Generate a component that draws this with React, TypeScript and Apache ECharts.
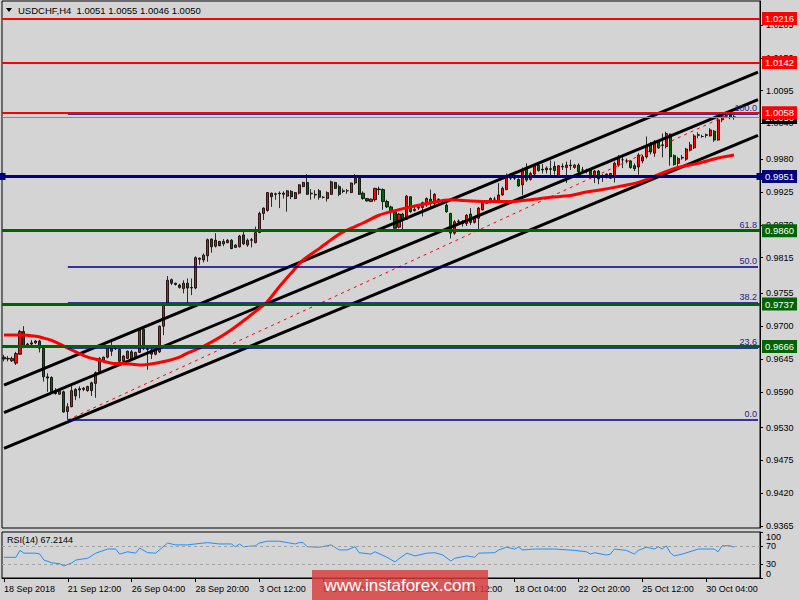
import React, { useEffect, useRef } from "react";
import * as echarts from "echarts";

// [open, high, low, close] per H4 bar, 18 Sep 2018 20:00 .. 31 Oct 2018 08:00
const CANDLES: number[][] = [
  [0.9648, 0.9652, 0.9641, 0.9645], [0.9645, 0.965, 0.9641, 0.9646], [0.9642, 0.9649, 0.964, 0.9646], [0.9638, 0.9657, 0.9635, 0.9654],
  [0.9653, 0.9694, 0.9652, 0.9691], [0.9691, 0.97, 0.9663, 0.9666], [0.9667, 0.9672, 0.9665, 0.967], [0.967, 0.9677, 0.9667, 0.9672],
  [0.9672, 0.9677, 0.967, 0.9675], [0.9675, 0.9677, 0.9656, 0.9663], [0.9663, 0.9665, 0.9607, 0.9615], [0.9615, 0.9621, 0.959, 0.9613],
  [0.9614, 0.9616, 0.9589, 0.959], [0.959, 0.9596, 0.9585, 0.9587], [0.9586, 0.9594, 0.9585, 0.9592], [0.959, 0.9592, 0.9555, 0.9556],
  [0.9557, 0.9571, 0.9543, 0.9565], [0.9565, 0.9601, 0.9564, 0.9592], [0.9594, 0.9596, 0.9576, 0.9583], [0.9593, 0.9599, 0.9579, 0.9595],
  [0.9594, 0.9598, 0.9591, 0.9596], [0.9592, 0.96, 0.959, 0.9599], [0.9605, 0.9607, 0.9583, 0.9592], [0.9604, 0.9624, 0.958, 0.9622],
  [0.9624, 0.9648, 0.9623, 0.9646], [0.9641, 0.9649, 0.964, 0.9648], [0.9648, 0.9667, 0.9646, 0.9665], [0.9665, 0.9674, 0.965, 0.9658],
  [0.9662, 0.9668, 0.966, 0.9664], [0.9661, 0.9663, 0.9638, 0.9641], [0.9641, 0.9651, 0.964, 0.965], [0.9646, 0.9659, 0.9645, 0.9658],
  [0.9657, 0.966, 0.9643, 0.9644], [0.9648, 0.9657, 0.9646, 0.9656], [0.9656, 0.9697, 0.9655, 0.9695], [0.9695, 0.9696, 0.966, 0.9663],
  [0.9662, 0.9665, 0.9627, 0.9661], [0.9653, 0.9663, 0.9645, 0.966], [0.9653, 0.9663, 0.9651, 0.9661], [0.9657, 0.9701, 0.9655, 0.97],
  [0.97, 0.9738, 0.9685, 0.9736], [0.9737, 0.9784, 0.9735, 0.9777], [0.9778, 0.978, 0.9769, 0.9772], [0.9772, 0.9773, 0.9768, 0.977],
  [0.9769, 0.9771, 0.9763, 0.9765], [0.9763, 0.9777, 0.9755, 0.9772], [0.9772, 0.978, 0.9738, 0.9764], [0.9764, 0.978, 0.9752, 0.9765],
  [0.9764, 0.9817, 0.9762, 0.9815], [0.9814, 0.9815, 0.9803, 0.9812], [0.9811, 0.9822, 0.9807, 0.9819], [0.9818, 0.9847, 0.9808, 0.9845],
  [0.9846, 0.9847, 0.9823, 0.9833], [0.9834, 0.9856, 0.9832, 0.9844], [0.9842, 0.9843, 0.9834, 0.9835], [0.9838, 0.9846, 0.9834, 0.9842],
  [0.984, 0.9846, 0.9839, 0.9844], [0.9844, 0.9846, 0.9829, 0.983], [0.9832, 0.9837, 0.9831, 0.9836], [0.9833, 0.9853, 0.9832, 0.9851],
  [0.9853, 0.9862, 0.9836, 0.9838], [0.9836, 0.9847, 0.9833, 0.9844], [0.9845, 0.9848, 0.9832, 0.9844], [0.984, 0.9867, 0.9839, 0.9857],
  [0.9857, 0.9892, 0.9856, 0.9889], [0.9889, 0.9899, 0.9878, 0.9898], [0.9894, 0.9925, 0.9892, 0.9924], [0.9923, 0.9924, 0.99, 0.9917],
  [0.9921, 0.9924, 0.9912, 0.9922], [0.9922, 0.9926, 0.9898, 0.9923], [0.9923, 0.9926, 0.9914, 0.9921], [0.9918, 0.9928, 0.9892, 0.9927],
  [0.9926, 0.9928, 0.9913, 0.9917], [0.9914, 0.9925, 0.9913, 0.9924], [0.9923, 0.9938, 0.9921, 0.9937], [0.9934, 0.9942, 0.9933, 0.9941],
  [0.9941, 0.9955, 0.992, 0.9921], [0.9922, 0.993, 0.9912, 0.9923], [0.9921, 0.9928, 0.9914, 0.992], [0.9927, 0.993, 0.9912, 0.9916],
  [0.9916, 0.9918, 0.9914, 0.9916], [0.9914, 0.9926, 0.9909, 0.9924], [0.9921, 0.9944, 0.992, 0.9942], [0.9941, 0.9942, 0.993, 0.9931],
  [0.9934, 0.9937, 0.9918, 0.9921], [0.9926, 0.9931, 0.9923, 0.9927], [0.9927, 0.993, 0.9922, 0.9927], [0.9924, 0.9941, 0.9923, 0.994],
  [0.994, 0.9955, 0.9937, 0.9948], [0.9948, 0.9951, 0.992, 0.9921], [0.9923, 0.9926, 0.9912, 0.9914], [0.9914, 0.9915, 0.9909, 0.991],
  [0.9909, 0.9914, 0.9908, 0.9913], [0.9912, 0.9932, 0.9909, 0.9931], [0.993, 0.9934, 0.992, 0.9929], [0.9929, 0.9931, 0.9895, 0.9909],
  [0.9909, 0.9912, 0.9898, 0.99], [0.99, 0.9902, 0.9878, 0.9892], [0.9893, 0.9895, 0.9859, 0.9864], [0.9866, 0.989, 0.9864, 0.9888],
  [0.9888, 0.989, 0.9859, 0.9878], [0.9879, 0.992, 0.9878, 0.9918], [0.9917, 0.9918, 0.989, 0.9892], [0.9894, 0.99, 0.9892, 0.9896],
  [0.9898, 0.9903, 0.9895, 0.99], [0.9899, 0.9909, 0.9884, 0.9907], [0.9903, 0.9916, 0.99, 0.9914], [0.9913, 0.9929, 0.9898, 0.9907],
  [0.9906, 0.9923, 0.9903, 0.9921], [0.9913, 0.9914, 0.9906, 0.9912], [0.991, 0.9912, 0.9907, 0.9909], [0.9903, 0.9906, 0.989, 0.9892],
  [0.9889, 0.989, 0.9847, 0.9856], [0.9856, 0.9878, 0.9853, 0.9875], [0.9875, 0.9879, 0.987, 0.9876], [0.9873, 0.9878, 0.9867, 0.9872],
  [0.9872, 0.9888, 0.9868, 0.9886], [0.9888, 0.9898, 0.987, 0.9874], [0.9874, 0.9884, 0.9872, 0.9882], [0.9881, 0.99, 0.9859, 0.9898],
  [0.9895, 0.9909, 0.9894, 0.9907], [0.9906, 0.991, 0.9905, 0.9909], [0.9907, 0.9916, 0.9906, 0.9914], [0.9913, 0.9917, 0.9909, 0.9913],
  [0.9909, 0.994, 0.9906, 0.992], [0.992, 0.9934, 0.9919, 0.9931], [0.9929, 0.9956, 0.9928, 0.9952], [0.9952, 0.9956, 0.9945, 0.9948],
  [0.9948, 0.9951, 0.9945, 0.9948], [0.9946, 0.9948, 0.9934, 0.9935], [0.9937, 0.9966, 0.992, 0.9963], [0.9963, 0.9973, 0.9942, 0.9945],
  [0.9946, 0.9959, 0.9944, 0.9956], [0.9955, 0.9972, 0.9952, 0.9969], [0.997, 0.9972, 0.9959, 0.9961], [0.9962, 0.9972, 0.9956, 0.9963],
  [0.9962, 0.9968, 0.9956, 0.9965], [0.9964, 0.9978, 0.9952, 0.9963], [0.9968, 0.9976, 0.9954, 0.9961], [0.9952, 0.997, 0.9951, 0.9969],
  [0.9967, 0.9973, 0.9962, 0.9968], [0.9966, 0.9976, 0.994, 0.997], [0.997, 0.9979, 0.9962, 0.9969], [0.9966, 0.9972, 0.9964, 0.997],
  [0.997, 0.9973, 0.9956, 0.9959], [0.9962, 0.9967, 0.9956, 0.9962], [0.996, 0.9964, 0.9956, 0.996], [0.9962, 0.9965, 0.9948, 0.9951],
  [0.9951, 0.9962, 0.994, 0.996], [0.996, 0.9962, 0.9938, 0.9947], [0.9951, 0.9955, 0.9942, 0.9951], [0.9949, 0.9956, 0.9948, 0.9955],
  [0.9956, 0.9957, 0.9947, 0.9948], [0.9949, 0.9976, 0.9941, 0.9973], [0.997, 0.9987, 0.9967, 0.9981], [0.9979, 0.9987, 0.9965, 0.9979],
  [0.9977, 0.9981, 0.9973, 0.9977], [0.9977, 0.9978, 0.9964, 0.9966], [0.9969, 0.9973, 0.996, 0.9964], [0.9967, 0.999, 0.9954, 0.9987],
  [0.9977, 0.9987, 0.9973, 0.9984], [0.9984, 1.0018, 0.9981, 1.0001], [1.0004, 1.0009, 0.9988, 0.9992], [0.999, 1.0012, 0.9984, 1.0007],
  [1.0009, 1.0012, 0.9997, 0.9999], [1.0003, 1.0023, 0.9983, 1.0004], [1.0001, 1.0026, 0.9998, 1.0023], [1.0022, 1.0023, 0.9969, 0.9984],
  [0.9986, 0.9988, 0.9969, 0.9971], [0.9973, 0.9984, 0.9967, 0.9981], [0.9982, 0.9987, 0.9979, 0.9983], [0.998, 0.9999, 0.9977, 0.9997],
  [0.9995, 1.0009, 0.9993, 1.0004], [0.9999, 1.0022, 0.9997, 1.0019], [1.002, 1.0025, 1.0015, 1.0021], [1.0018, 1.0021, 1.0016, 1.0018],
  [1.002, 1.0023, 1.0016, 1.0021], [1.0019, 1.0032, 1.0018, 1.0029], [1.0027, 1.0029, 1.0009, 1.0012], [1.0012, 1.0049, 1.0011, 1.0046],
  [1.0046, 1.0054, 1.0042, 1.0051], [1.0052, 1.0055, 1.005, 1.0053], [1.0055, 1.0057, 1.0047, 1.005], [1.0051, 1.0055, 1.0046, 1.005],
];

const SLOT_COUNT = 190; // bar slots on the time axis (incl. empty right margin)
const CATEGORIES = Array.from({ length: SLOT_COUNT }, (_, i) => String(i));
const X_TICK_STEP = 16;
const X_TICK_LABELS = [
  "18 Sep 2018", "21 Sep 12:00", "26 Sep 04:00", "28 Sep 20:00", "3 Oct 12:00", "8 Oct 04:00",
  "10 Oct 20:00", "15 Oct 12:00", "18 Oct 04:00", "22 Oct 20:00", "25 Oct 12:00", "30 Oct 04:00",
];

const PRICE_MIN = 0.93616;
const PRICE_MAX = 1.02452;
const PRICE_TICKS = [
  1.0205, 1.015, 1.0095, 1.004, 0.998, 0.9925, 0.987, 0.9815, 0.9755, 0.97, 0.9645, 0.959, 0.953, 0.9475, 0.942, 0.9365,
];

// moving average [bar, price]
const MA_POINTS: number[][] = [
  [0, 0.9685], [4, 0.9685], [8, 0.9683], [10, 0.968], [12, 0.9676], [14, 0.967], [16, 0.9663], [18, 0.9657],
  [21, 0.9648], [24, 0.9643], [27, 0.9638], [31, 0.9637], [34, 0.9635], [38, 0.9638], [41, 0.9642], [44, 0.9648],
  [46, 0.9655], [49, 0.9663], [53, 0.9677], [57, 0.9694], [61, 0.9714], [64, 0.973], [66, 0.9741], [69, 0.9766],
  [72, 0.9789], [75, 0.9811], [79, 0.983], [82, 0.9845], [85, 0.9858], [88, 0.9867], [90, 0.9873], [94, 0.9886],
  [97, 0.9892], [102, 0.99], [107, 0.9907], [112, 0.9912], [117, 0.991], [122, 0.9909], [127, 0.9909], [132, 0.9912],
  [137, 0.9916], [142, 0.9919], [146, 0.9925], [149, 0.9928], [154, 0.9934], [159, 0.9941], [164, 0.9954],
  [169, 0.9966], [174, 0.9973], [179, 0.9982], [183, 0.9987],
];

// RSI(14) [bar, value]
const RSI_POINTS: number[][] = [
  [0, 45], [3, 45], [4, 60], [5, 54], [8, 54], [9, 52], [10, 39], [12, 33], [14, 31], [15, 26], [17, 33], [18, 39],
  [21, 43], [23, 54], [26, 63], [28, 63], [29, 52], [31, 57], [33, 54], [34, 65], [36, 55], [38, 54], [41, 76],
  [43, 72], [46, 72], [48, 74], [51, 77], [54, 74], [57, 74], [58, 68], [59, 74], [60, 68], [63, 70], [64, 76],
  [66, 80], [69, 80], [73, 74], [74, 77], [75, 77], [76, 68], [79, 67], [81, 70], [82, 72], [84, 61], [86, 61],
  [88, 68], [89, 55], [92, 52], [93, 57], [96, 45], [98, 35], [99, 42], [101, 54], [103, 48], [106, 54], [108, 55],
  [110, 50], [112, 37], [113, 43], [116, 48], [118, 45], [119, 54], [123, 55], [124, 61], [126, 67], [128, 63],
  [129, 67], [130, 61], [133, 63], [138, 63], [143, 60], [146, 57], [147, 52], [148, 55], [151, 50], [152, 52],
  [153, 63], [156, 60], [158, 52], [159, 60], [161, 67], [163, 63], [164, 68], [165, 63], [166, 70], [167, 55],
  [168, 48], [170, 52], [173, 60], [174, 63], [178, 63], [179, 57], [180, 70], [182, 70], [183, 67.2144],
];
const RSI_MID_TICKS = [30, 70];
const RSI_TOP_TICK = [100];
const RSI_BOTTOM_TICK = [0];
const RSI_LEVELS = [70, 30];

// regression channel lines: price at bar 0 and at bar 189
const CHANNEL_BARS = [0, 189];
const CHANNELS: number[][] = [
  [0.9601, 1.0126],
  [0.9555, 1.008],
  [0.9495, 1.002],
];

// Fibonacci retracement
const FIB_LOW = 0.9543;
const FIB_HIGH = 1.0056;
const FIB_START_BAR = 16;
const FIB_TREND_END_BAR = 182;
const FIB_END_BAR = 189;
const FIB_LEVELS = [0, 23.6, 38.2, 50, 61.8, 100];

// horizontal levels
const RED_LEVELS = [1.0216, 1.0142, 1.0058];
const GREEN_LEVELS = [0.986, 0.9737, 0.9666];
const BLUE_LEVEL = 0.9951;
const BID = 1.005;

const TITLE = "USDCHF,H4  1.0051 1.0055 1.0046 1.0050";
const RSI_TITLE = "RSI(14) 67.2144";
const WATERMARK = "www.instaforex.com";

const FONT = "'Liberation Sans', Arial, sans-serif";
const BG = "#d4d4d4";

export default function App() {
  const ref = useRef<HTMLDivElement>(null);

  useEffect(() => {
    if (!ref.current) return;
    const chart = echarts.init(ref.current, null, { renderer: "svg" });

    const levelLabel = (bg: string) => ({
      show: true,
      position: "end",
      distance: 2,
      formatter: (p: any) => Number(p.value).toFixed(4),
      color: "#fff",
      backgroundColor: bg,
      padding: [2, 3, 1, 3],
      fontSize: 9.5,
      fontFamily: FONT,
    });

    const fibData = FIB_LEVELS.map((l) => {
      const v = FIB_LOW + ((FIB_HIGH - FIB_LOW) * l) / 100;
      return [
        { name: l.toFixed(1), coord: [FIB_START_BAR, v] },
        { coord: [FIB_END_BAR, v] },
      ];
    });

    const rsiAxis = (ticks: number[], vAlign: string, showLine: boolean) => ({
      type: "value",
      gridIndex: 1,
      position: "right",
      min: 0,
      max: 100,
      axisLine: { show: showLine, lineStyle: { color: "#000" } },
      axisTick: { show: true, customValues: ticks, length: 3, lineStyle: { color: "#000" } },
      axisLabel: {
        customValues: ticks,
        showMinLabel: true,
        showMaxLabel: true,
        formatter: (v: number) => String(v),
        verticalAlign: vAlign,
        color: "#000",
        fontSize: 9,
        fontFamily: FONT,
        margin: 6,
      },
      splitLine: { show: false },
    });

    const option: any = {
      animation: false,
      backgroundColor: BG,
      grid: [
        { left: 2, right: 40, top: 1, height: 527, show: true, borderColor: "#000", borderWidth: 1, backgroundColor: "transparent" },
        { left: 2, right: 40, top: 532, height: 46, show: true, borderColor: "#000", borderWidth: 1, backgroundColor: "transparent" },
      ],
      xAxis: [
        {
          type: "category",
          gridIndex: 0,
          data: CATEGORIES,
          boundaryGap: true,
          axisLine: { show: false },
          axisTick: { show: false },
          axisLabel: { show: false },
          splitLine: { show: false },
        },
        {
          type: "category",
          gridIndex: 1,
          data: CATEGORIES,
          boundaryGap: true,
          axisLine: { show: true, lineStyle: { color: "#000" } },
          axisTick: {
            show: true,
            alignWithLabel: true,
            interval: (i: number) => i % X_TICK_STEP === 0,
            length: 4,
            lineStyle: { color: "#000" },
          },
          axisLabel: {
            show: true,
            interval: (i: number) => i % X_TICK_STEP === 0,
            formatter: (_v: string, i: number) => X_TICK_LABELS[i / X_TICK_STEP] ?? "",
            align: "left",
            color: "#000",
            fontSize: 9,
            fontFamily: FONT,
            margin: 6,
          },
          splitLine: { show: false },
        },
      ],
      yAxis: [
        {
          type: "value",
          gridIndex: 0,
          position: "right",
          min: PRICE_MIN,
          max: PRICE_MAX,
          axisLine: { show: true, lineStyle: { color: "#000" } },
          axisTick: { show: true, customValues: PRICE_TICKS, length: 3, lineStyle: { color: "#000" } },
          axisLabel: {
            customValues: PRICE_TICKS,
            formatter: (v: number) => v.toFixed(4),
            color: "#000",
            fontSize: 9,
            fontFamily: FONT,
            margin: 6,
          },
          splitLine: { show: false },
        },
        rsiAxis(RSI_MID_TICKS, "middle", true),
        rsiAxis(RSI_TOP_TICK, "top", false),
        rsiAxis(RSI_BOTTOM_TICK, "bottom", false),
      ],
      series: [
        {
          type: "candlestick",
          xAxisIndex: 0,
          yAxisIndex: 0,
          data: CANDLES.map(([o, h, l, c]) => [o, c, l, h]),
          barWidth: 2.6,
          itemStyle: {
            color: "#ff0000",
            color0: "#006400",
            borderColor: "#000",
            borderColor0: "#000",
            borderWidth: 0.8,
          },
          z: 2,
          silent: true,
        },
        {
          type: "line",
          xAxisIndex: 0,
          yAxisIndex: 0,
          data: [
            [FIB_START_BAR, FIB_LOW],
            [FIB_TREND_END_BAR, FIB_HIGH],
          ],
          symbol: "none",
          lineStyle: { color: "#ff0000", width: 1, type: [3, 4] },
          z: 3,
          silent: true,
          markLine: {
            silent: true,
            z: 5,
            precision: 5,
            symbol: ["none", "none"],
            lineStyle: { color: "#000080", width: 1.5, type: "solid" },
            label: {
              show: true,
              position: "insideEndTop",
              formatter: (p: any) => p.name,
              color: "#22228c",
              fontSize: 9,
              fontFamily: FONT,
              distance: 1,
            },
            data: fibData,
          },
        },
        ...CHANNELS.map((ch) => ({
          type: "line",
          xAxisIndex: 0,
          yAxisIndex: 0,
          data: [
            [CHANNEL_BARS[0], ch[0]],
            [CHANNEL_BARS[1], ch[1]],
          ],
          symbol: "none",
          lineStyle: { color: "#000", width: 3 },
          z: 3,
          silent: true,
        })),
        {
          type: "line",
          xAxisIndex: 0,
          yAxisIndex: 0,
          data: MA_POINTS,
          smooth: 0.3,
          symbol: "none",
          lineStyle: { color: "#ff0000", width: 3 },
          z: 4,
          silent: true,
        },
        {
          type: "line",
          xAxisIndex: 0,
          yAxisIndex: 0,
          data: [],
          silent: true,
          markLine: {
            silent: true,
            z: 6,
            precision: 4,
            symbol: ["none", "none"],
            data: [
              { yAxis: BID, lineStyle: { color: "#7f8c99", width: 1, type: "solid" }, label: levelLabel("#000") },
              ...GREEN_LEVELS.map((v) => ({
                yAxis: v,
                lineStyle: { color: "#006400", width: 3, type: "solid" },
                label: levelLabel("#006400"),
              })),
              ...RED_LEVELS.map((v) => ({
                yAxis: v,
                lineStyle: { color: "#ff0000", width: 2, type: "solid" },
                label: levelLabel("#ff0000"),
              })),
            ],
          },
        },
        {
          type: "line",
          xAxisIndex: 0,
          yAxisIndex: 0,
          data: [],
          silent: true,
          markLine: {
            silent: true,
            z: 6,
            precision: 4,
            symbol: ["rect", "rect"],
            symbolSize: 7,
            data: [
              {
                yAxis: BLUE_LEVEL,
                lineStyle: { color: "#000080", width: 3, type: "solid" },
                itemStyle: { color: "#000080" },
                label: levelLabel("#000080"),
              },
            ],
          },
        },
        {
          type: "line",
          xAxisIndex: 1,
          yAxisIndex: 1,
          data: RSI_POINTS,
          symbol: "none",
          lineStyle: { color: "#1e90ff", width: 1 },
          silent: true,
          markLine: {
            silent: true,
            symbol: ["none", "none"],
            label: { show: false },
            lineStyle: { color: "#a0a0a0", width: 1, type: [3, 3] },
            data: RSI_LEVELS.map((v) => ({ yAxis: v })),
          },
        },
      ],
      graphic: [
        {
          type: "polygon",
          z: 100,
          shape: { points: [[6, 8], [12, 8], [9, 12]] },
          style: { fill: "#000" },
        },
        {
          type: "text",
          z: 100,
          x: 18,
          y: 10,
          style: { text: TITLE, fill: "#000", font: `9.5px ${FONT}`, verticalAlign: "middle" },
        },
        {
          type: "text",
          z: 100,
          x: 7,
          y: 540,
          style: { text: RSI_TITLE, fill: "#000", font: `9px ${FONT}`, verticalAlign: "middle" },
        },
        {
          type: "rect",
          z: 100,
          shape: { x: 312, y: 570, width: 176, height: 30 },
          style: { fill: "rgba(220,60,60,0.82)" },
        },
        {
          type: "text",
          z: 101,
          x: 400,
          y: 585,
          style: {
            text: WATERMARK,
            fill: "#fff",
            font: `17px ${FONT}`,
            align: "center",
            verticalAlign: "middle",
          },
        },
      ],
    };

    chart.setOption(option);
    return () => chart.dispose();
  }, []);

  return (
    <div
      ref={ref}
      style={{ position: "fixed", left: 0, top: 0, width: 800, height: 600, background: BG }}
    />
  );
}
